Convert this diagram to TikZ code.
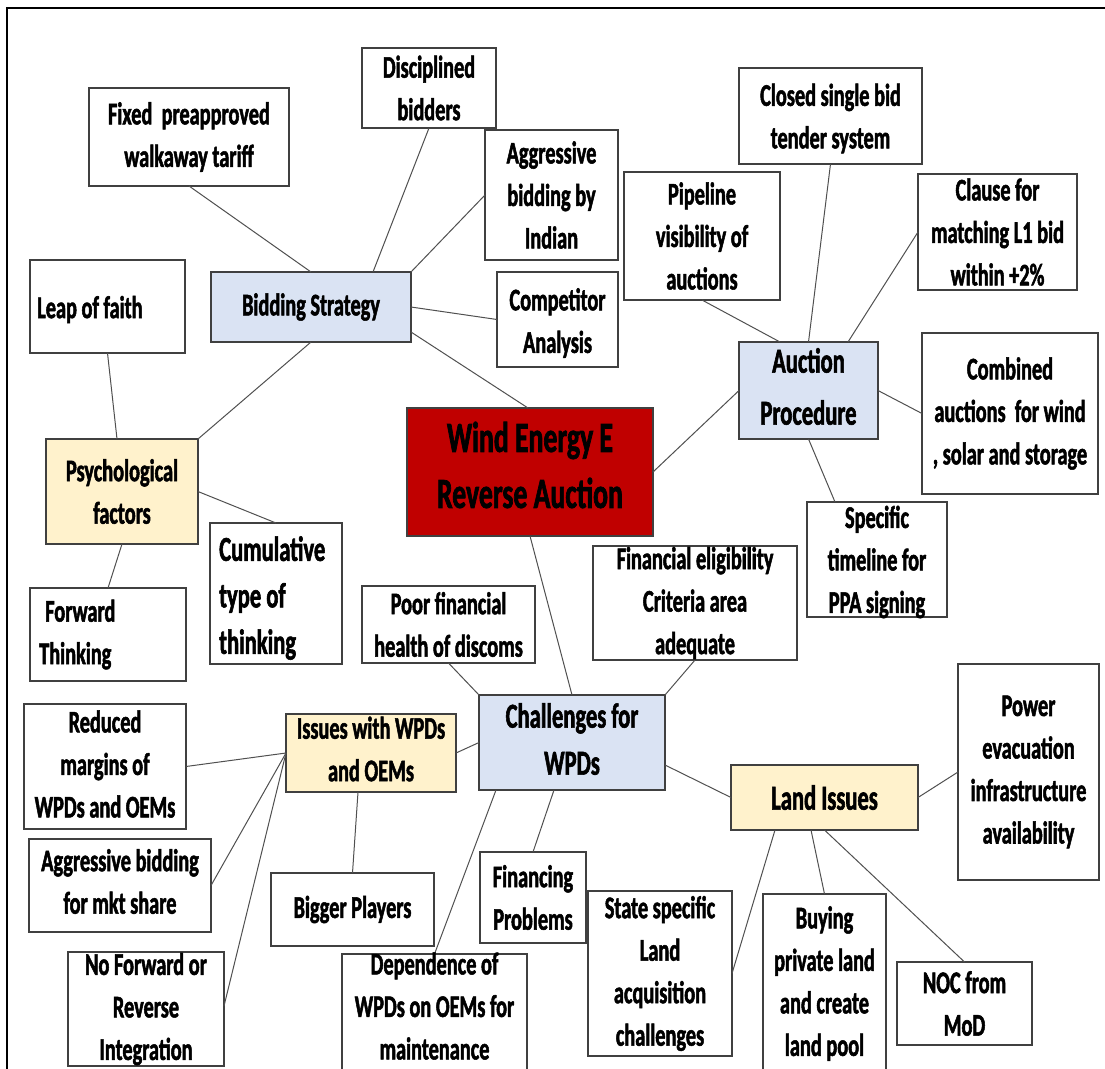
\documentclass[tikz,border=0pt]{standalone}
\usepackage{fontspec}
\setmainfont{Carlito}[FakeStretch=0.645, BoldFeatures={FakeBold=1.6}]
\definecolor{boxline}{RGB}{64,64,64}
\definecolor{hubblue}{RGB}{218,227,243}
\definecolor{hubgold}{RGB}{255,242,204}
\definecolor{corered}{RGB}{192,0,0}
\definecolor{linkgray}{RGB}{80,80,80}
\newcommand\normaltext{\fontsize{31.5}{42.5}\selectfont\bfseries}
\newcommand\bigtext{\fontsize{35}{47}\selectfont\bfseries}
\newcommand\auctext{\fontsize{35}{52}\selectfont\bfseries}
\newcommand\hugetext{\fontsize{43}{56}\selectfont\bfseries}
% \boxat{name}{style}{x1}{y1}{x2}{y2}: a box given by its corners (pixel units)
\newcommand\boxat[6]{%
  \node[#2, minimum width={(#5-#3)*1pt}, minimum height={(#6-#4)*1pt}]
    (#1) at ({(#3+#5)/2},{(#4+#6)/2}) {};}
\begin{document}
\begin{tikzpicture}[x=1pt,y=-1pt,
  box/.style={rectangle, draw=boxline, line width=1.3pt, fill=white, inner sep=0pt, outer sep=0pt},
  bluebox/.style={box, fill=hubblue},
  goldbox/.style={box, fill=hubgold},
  redbox/.style={box, fill=corered},
  txt/.style={inner sep=0pt, align=center, text=black, font=\normaltext},
  bigtxt/.style={txt, font=\bigtext},
  lefttxt/.style={txt, align=left, anchor=west},
  link/.style={draw=linkgray, line width=1pt}]
\useasboundingbox (0,0) rectangle (1105,1068);
\fill[white] (0,0) rectangle (1105,1068);
\clip (0,0) rectangle (1105,1068);

% outer frame
\draw[line width=2pt, black] (7,1070) -- (7,8) -- (1106,8);

% ---------- boxes ----------
\boxat{fix}{box}{89}{88}{289}{186}
\boxat{dis}{box}{362}{48}{496}{128}
\boxat{agi}{box}{485}{130}{618}{260}
\boxat{bid}{bluebox}{211}{272}{411}{342}
\boxat{leap}{box}{30}{260}{185}{353}
\boxat{comp}{box}{497}{272}{618}{367}
\boxat{clo}{box}{739}{68}{922}{164}
\boxat{pip}{box}{624}{172}{780}{300}
\boxat{cla}{box}{918}{174}{1077}{290}
\boxat{auc}{bluebox}{739}{342}{878}{439}
\boxat{comb}{box}{922}{333}{1098}{494}
\boxat{psy}{goldbox}{46}{439}{198}{544}
\boxat{wind}{redbox}{407}{408}{653}{536}
\boxat{cum}{box}{210}{523}{342}{664}
\boxat{fwd}{box}{30}{588}{186}{681}
\boxat{poor}{box}{362}{586}{535}{663}
\boxat{chal}{bluebox}{479}{695}{665}{790}
\boxat{spec}{box}{807}{502}{947}{617}
\boxat{fin}{box}{593}{546}{797}{660}
\boxat{pow}{box}{958}{664}{1099}{880}
\boxat{red}{box}{24}{704}{186}{829}
\boxat{iss}{goldbox}{286}{714}{456}{792}
\boxat{agm}{box}{29}{839}{211}{932}
\boxat{big}{box}{271}{873}{434}{946}
\boxat{nof}{box}{68}{952}{224}{1066}
\boxat{dep}{box}{342}{954}{527}{1100}
\boxat{fing}{box}{480}{852}{586}{943}
\boxat{land}{goldbox}{731}{765}{918}{830}
\boxat{sta}{box}{588}{891}{732}{1056}
\boxat{buy}{box}{763}{894}{886}{1100}
\boxat{noc}{box}{897}{962}{1032}{1045}

% ---------- connectors ----------
\draw[link] (fix.south) -- (bid.north);
\draw[link] (dis.south) -- ([xshift=62pt]bid.north);
\draw[link] (agi.west) -- (bid.north east);
\draw[link] (bid.east) -- (comp.west);
\draw[link] ([yshift=-25pt]bid.east) -- ([xshift=-2pt]wind.north);
\draw[link] (bid.south) -- (psy.north east);
\draw[link] (leap.south) -- ([xshift=-5pt]psy.north);
\draw[link] (psy.east) -- (cum.north);
\draw[link] (psy.south) -- (fwd.north);
\draw[link] (wind.south) -- (chal.north);
\draw[link] (poor.south) -- (chal.north west);
\draw[link] (wind.east) -- (auc.west);
\draw[link] (auc.east) -- (comb.west);
\draw[link] (auc.south) -- ([xshift=-42pt]spec.north);
\draw[link] (fin.south) -- (chal.north east);
\draw[link] (clo.south) -- (auc.north);
\draw[link] (pip.south) -- ([xshift=-28.5pt]auc.north);
\draw[link] (cla.west) -- ([xshift=39.5pt]auc.north);
\draw[link] (iss.west) -- (red.east);
\draw[link] (iss.west) -- (agm.east);
\draw[link] (iss.west) -- ([yshift=3pt]nof.east);
\draw[link] (iss.east) -- (chal.west);
\draw[link] ([xshift=-13pt]iss.south) -- (big.north);
\draw[link] ([xshift=-76pt]chal.south) -- (dep.north);
\draw[link] ([xshift=-18pt]chal.south) -- (fing.north);
\draw[link] ([yshift=-22.5pt]chal.east) -- (land.west);
\draw[link] (land.east) -- (pow.west);
\draw[link] ([xshift=-49.5pt]land.south) -- (sta.east);
\draw[link] ([xshift=-13.5pt]land.south) -- (buy.north);
\draw[link] (land.south) -- (noc.north);

% ---------- texts ----------
\node[txt] (fix-t) at (fix.center) {Fixed~~preapproved\\walkaway tariff};
\node[txt] (dis-t) at (dis.center) {Disciplined\\bidders};
\node[txt] (agi-t) at (agi.center) {Aggressive\\bidding by\\Indian};
\node[txt] (bid-t) at (bid.center) {Bidding Strategy};
\node[lefttxt] (leap-t) at ([xshift=7pt,yshift=-3pt]leap.west) {Leap of faith};
\node[txt] (comp-t) at ([yshift=-3.5pt]comp.center) {Competitor\\Analysis};
\node[txt] (clo-t) at ([yshift=-2.5pt]clo.center) {Closed single bid\\tender system};
\node[txt] (pip-t) at (pip.center) {Pipeline\\visibility of\\auctions};
\node[txt] (cla-t) at (cla.center) {Clause for\\matching L1 bid\\within +2\%};
\node[txt, font=\auctext] (auc-t) at ([yshift=4pt]auc.center) {Auction\\Procedure};
\node[txt] (comb-t) at (comb.center) {Combined\\auctions~~for wind\\, solar and storage};
\node[txt] (psy-t) at (psy.center) {Psychological\\factors};
\node[txt, font=\hugetext] (wind-t) at ([yshift=7pt]wind.center) {Wind Energy E\\Reverse Auction};
\node[lefttxt, font=\fontsize{35}{46.5}\selectfont\bfseries] (cum-t) at ([xshift=9pt,yshift=-4.5pt]cum.west) {Cumulative\\type of\\thinking};
\node[lefttxt] (fwd-t) at ([xshift=9pt]fwd.west) {\hspace*{6pt}Forward\\Thinking};
\node[txt] (poor-t) at (poor.center) {Poor financial\\health of discoms};
\node[bigtxt] (chal-t) at ([yshift=3.5pt]chal.center) {Challenges for\\WPDs};
\node[txt] (spec-t) at ([yshift=-2.5pt]spec.center) {Specific\\timeline for\\PPA signing};
\node[txt] (fin-t) at (fin.center) {Financial eligibility\\Criteria area\\adequate};
\node[txt] (pow-t) at (pow.center) {Power\\evacuation\\infrastructure\\availability};
\node[txt] (red-t) at ([yshift=2.5pt]red.center) {Reduced\\margins of\\WPDs and OEMs};
\node[txt] (iss-t) at ([yshift=4pt]iss.center) {Issues with WPDs\\and OEMs};
\node[txt] (agm-t) at ([yshift=4pt]agm.center) {Aggressive bidding\\for mkt share};
\node[txt] (big-t) at (big.center) {Bigger Players};
\node[txt] (nof-t) at (nof.center) {No Forward or\\Reverse\\Integration};
\node[txt] (dep-t) at ([yshift=21pt]dep.center) {Dependence of\\WPDs on OEMs for\\maintenance};
\node[txt] (fing-t) at (fing.center) {Financing\\Problems};
\node[bigtxt] (land-t) at (land.center) {Land Issues};
\node[txt] (sta-t) at (sta.center) {State specific\\Land\\acquisition\\challenges};
\node[txt] (buy-t) at ([yshift=13.5pt]buy.center) {Buying\\private land\\and create\\land pool};
\node[txt] (noc-t) at (noc.center) {NOC from\\MoD};
\end{tikzpicture}
\end{document}
